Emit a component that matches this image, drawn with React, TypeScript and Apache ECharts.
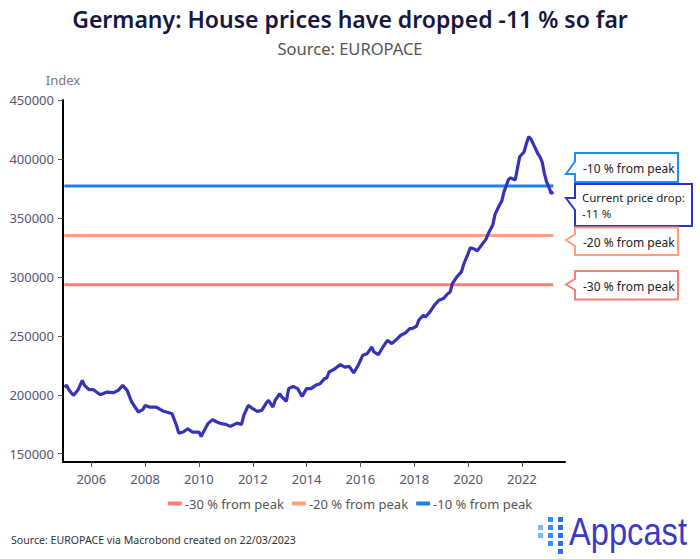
import React, { useEffect, useRef } from "react";
import * as echarts from "echarts";

const dates = [
  "2005-01","2005-02","2005-03","2005-05","2005-07","2005-09","2005-10","2005-12",
  "2006-02","2006-05","2006-08","2006-11","2007-01","2007-03","2007-05","2007-07",
  "2007-10","2007-12","2008-01","2008-03","2008-06","2008-09","2008-12","2009-01",
  "2009-03","2009-04","2009-06","2009-08","2009-10","2010-01","2010-02","2010-03",
  "2010-05","2010-07","2010-09","2010-11","2011-01","2011-03","2011-06","2011-08",
  "2011-09","2011-11","2012-01","2012-03","2012-05","2012-07","2012-08","2012-10",
  "2012-11","2013-01","2013-02","2013-04","2013-05","2013-07","2013-09","2013-11",
  "2014-01","2014-03","2014-05","2014-07","2014-09","2014-10","2014-11","2015-01",
  "2015-04","2015-06","2015-08","2015-10","2015-12","2016-02","2016-04","2016-06",
  "2016-07","2016-09","2016-11","2017-01","2017-03","2017-05","2017-07","2017-09",
  "2017-11","2017-12","2018-02","2018-03","2018-05","2018-06","2018-08","2018-10",
  "2018-12","2019-02","2019-04","2019-05","2019-06","2019-08","2019-10","2019-11",
  "2020-01","2020-02","2020-04","2020-05","2020-07","2020-09","2020-10","2020-12",
  "2021-01","2021-03","2021-04","2021-05","2021-07","2021-08","2021-10","2021-11",
  "2021-12","2022-02","2022-03","2022-04","2022-05","2022-07","2022-08","2022-09",
  "2022-10","2022-11","2022-12","2023-01","2023-02","2023-03"
];

const values = [
  206600,208000,204300,199500,203800,212300,208000,204300,
  204300,200100,202300,201800,203800,208000,203800,193900,
  185400,187400,191000,189600,189600,186200,184600,184000,
  174000,167500,168400,171200,168400,168400,164700,168400,
  175500,178900,176900,175500,174900,173200,176000,174900,
  182500,191000,188200,185900,186800,193000,195300,189600,
  195300,201000,198100,194500,205200,207200,205200,198700,
  205200,205200,208000,209400,213700,214200,219300,221300,
  225600,223500,224100,218500,225000,233500,234900,240500,
  236300,234000,240500,246200,243400,246800,250500,252400,
  256100,256100,258100,263200,267500,266000,270300,276000,
  280200,281600,285900,287200,294400,300000,304200,310500,
  319800,324700,323500,321800,326900,332000,336800,343900,
  353000,360900,364200,372100,382600,384000,382100,392000,
  401900,406100,413200,418900,416900,409000,404700,401900,
  397600,387800,380600,376400,370800,372100
];

const thresholdNames = ["-30 % from peak", "-20 % from peak", "-10 % from peak"];
const thresholdShares = [0.7, 0.8, 0.9];
const thresholdColors = ["#fa7f72", "#ffa07a", "#1f7fe8"];

const yTicks = [150000, 200000, 250000, 300000, 350000, 400000, 450000];
const xTicks = [2006, 2008, 2010, 2012, 2014, 2016, 2018, 2020, 2022];

const mainColor = "#3434b8";
const FONT = "'Noto Sans', 'Open Sans', sans-serif";

function toYear(d: string): number {
  const [y, m] = d.split("-").map(Number);
  return y + (m - 1) / 12;
}

function callout(
  points: number[][],
  color: string,
  lines: string[],
  tx: number,
  ty: number,
  size = 12
) {
  return {
    type: "group",
    children: [
      {
        type: "polygon",
        shape: { points },
        style: { fill: "#ffffff", stroke: color, lineWidth: 2 },
      },
      {
        type: "text",
        x: tx,
        y: ty,
        style: {
          text: lines.join("\n"),
          fill: "#222222",
          font: `${size}px ${FONT}`,
          lineHeight: 16,
          verticalAlign: "top",
        },
      },
    ],
  };
}

export default function App() {
  const ref = useRef<HTMLDivElement>(null);

  useEffect(() => {
    if (!ref.current) return;
    const chart = echarts.init(ref.current, undefined, { renderer: "svg" });
    const seriesData = dates.map((d, i) => [toYear(d), values[i]]);
    const peak = Math.max(...values);
    const x0 = toYear(dates[0]);
    const x1 = toYear(dates[dates.length - 1]);

    const thresholdSeries = thresholdNames.map((name, i) => ({
      name,
      type: "line",
      data: [
        [x0, peak * thresholdShares[i]],
        [x1, peak * thresholdShares[i]],
      ],
      showSymbol: false,
      symbol: "none",
      lineStyle: { color: thresholdColors[i], width: 3 },
      itemStyle: { color: thresholdColors[i] },
      z: 2,
    }));

    const logoSquares: any[] = [];
    const cols = [
      { x: 538, rows: [528, 536], color: "#7fb8f5" },
      { x: 548, rows: [520, 528, 536, 544], color: "#3d8ef0" },
      { x: 558, rows: [520, 528, 536, 544, 552], color: "#2f6fe0" },
    ];
    cols.forEach((c) =>
      c.rows.forEach((r) =>
        logoSquares.push({
          type: "rect",
          shape: { x: c.x, y: r - 3, width: 5, height: 5 },
          style: { fill: c.color },
        })
      )
    );

    chart.setOption({
      animation: false,
      backgroundColor: "#ffffff",
      title: [
        {
          text: "Germany: House prices have dropped -11 % so far",
          left: "center",
          top: 2,
          textStyle: { fontFamily: FONT, fontSize: 23, fontWeight: 600, color: "#17173d" },
        },
        {
          text: "Source: EUROPACE",
          left: "center",
          top: 35,
          textStyle: { fontFamily: FONT, fontSize: 16.5, fontWeight: 400, color: "#555555" },
        },
      ],
      grid: { left: 63, right: 135, top: 100, bottom: 97, containLabel: false },
      legend: {
        data: thresholdNames,
        bottom: 44,
        left: "center",
        icon: "roundRect",
        itemWidth: 14,
        itemHeight: 4,
        itemGap: 8,
        textStyle: { fontFamily: FONT, fontSize: 13, color: "#555555", padding: [0, 0, 0, -2] },
      },
      xAxis: {
        type: "value",
        min: 2004.95,
        max: 2023.6,
        axisLine: { show: true, lineStyle: { color: "#000000", width: 2 } },
        axisTick: { show: true, length: 5, lineStyle: { color: "#555555" }, customValues: xTicks },
        axisLabel: {
          customValues: xTicks,
          formatter: (v: number) => String(Math.round(v)),
          color: "#55556e",
          fontFamily: FONT,
          fontSize: 13,
          margin: 10,
        },
        splitLine: { show: false },
      },
      yAxis: {
        type: "value",
        min: 143000,
        max: 450000,
        name: "Index",
        nameLocation: "end",
        nameGap: 14,
        nameTextStyle: { color: "#777788", fontFamily: FONT, fontSize: 13, align: "center" },
        axisLine: { show: true, lineStyle: { color: "#000000", width: 2 } },
        axisTick: { show: true, length: 5, lineStyle: { color: "#555555" }, customValues: yTicks },
        axisLabel: {
          customValues: yTicks,
          formatter: (v: number) => String(Math.round(v)),
          color: "#55556e",
          fontFamily: FONT,
          fontSize: 13,
          margin: 9,
        },
        splitLine: { show: false },
      },
      series: [
        ...thresholdSeries,
        {
          name: "Index",
          type: "line",
          data: seriesData,
          showSymbol: false,
          symbol: "none",
          lineStyle: { color: mainColor, width: 3.2 },
          itemStyle: { color: mainColor },
          z: 3,
        },
      ],
      graphic: [
        callout(
          [[575, 153], [678, 153], [678, 182], [575, 182], [575, 174], [566, 174], [575, 161.5]],
          "#1e8ff0",
          ["-10 % from peak"],
          583,
          160
        ),
        callout(
          [[575, 184], [692, 184], [692, 226], [575, 226], [575, 210], [566, 198], [575, 198]],
          mainColor,
          ["Current price drop:", "-11 %"],
          582,
          189,
          11.5
        ),
        callout(
          [[575, 227.5], [678, 227.5], [678, 255], [575, 255], [575, 246], [566, 240], [575, 234.5]],
          "#ffa07a",
          ["-20 % from peak"],
          583,
          234
        ),
        callout(
          [[575, 271], [678, 271], [678, 299.5], [575, 299.5], [575, 290], [566, 284.5], [575, 279]],
          "#fa7f72",
          ["-30 % from peak"],
          583,
          278
        ),
        {
          type: "text",
          left: 11,
          top: 534,
          style: {
            text: "Source: EUROPACE via Macrobond created on 22/03/2023",
            fill: "#333333",
            font: `10.6px ${FONT}`,
          },
        },
        ...logoSquares,
        {
          type: "text",
          x: 569,
          y: 513,
          scaleX: 0.86,
          style: {
            text: "Appcast",
            fill: "#3a3ac4",
            font: `38px 'Liberation Sans', Arial, sans-serif`,
          },
        },
      ],
    });

    return () => chart.dispose();
  }, []);

  return (
    <div
      ref={ref}
      style={{ position: "fixed", left: 0, top: 0, width: 700, height: 559 }}
    />
  );
}
